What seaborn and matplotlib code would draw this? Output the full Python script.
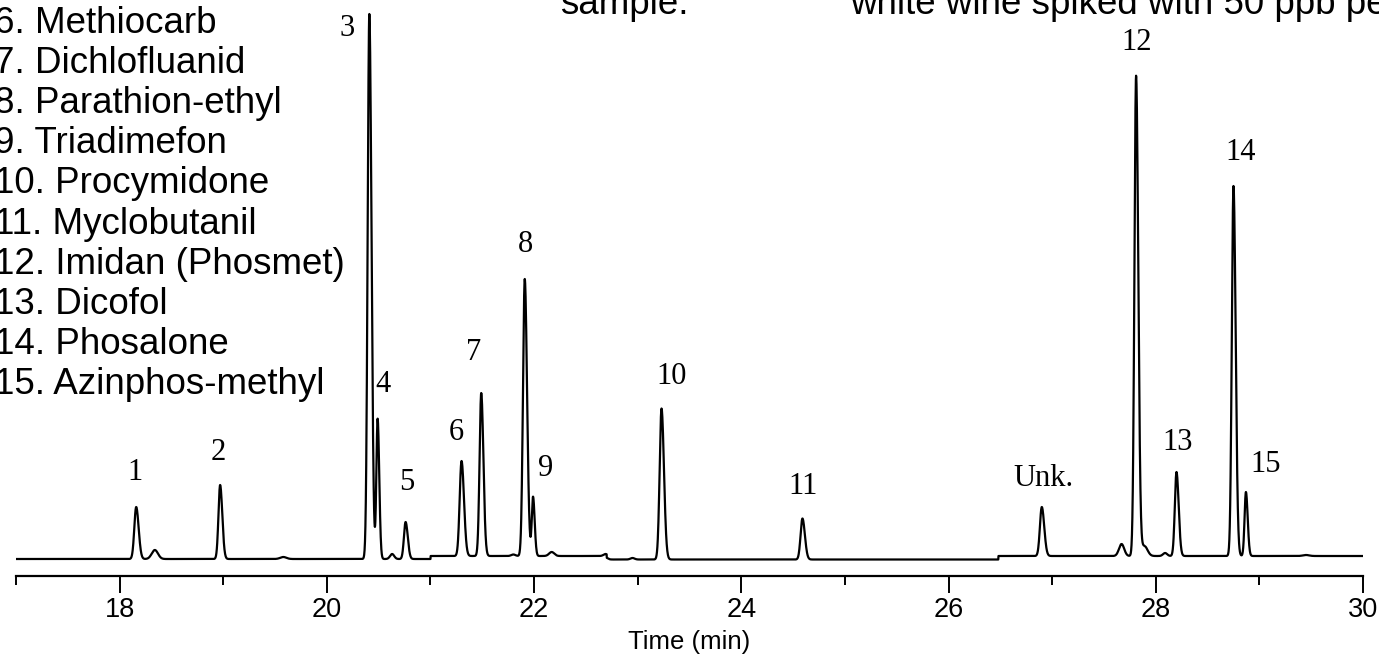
import numpy as np
import pandas as pd
import matplotlib
matplotlib.use("Agg")
import matplotlib.pyplot as plt
from matplotlib.ticker import FixedLocator
import seaborn as sns

# ---- Peak table: retention time (min), height (detector units), width (min) ----
peak_labels = ["1", "2", "3", "4", "5", "6", "7", "8", "9", "10", "11",
               "Unk.", "12", "13", "14", "15"]
peak_rt = [18.16, 18.97, 20.41, 20.49, 20.76, 21.30, 21.49, 21.91, 21.99,
           23.23, 24.59, 26.90, 27.81, 28.20, 28.75, 28.87]
peak_height = [52, 74, 545, 140, 37, 95, 163, 277, 59,
               151, 41, 49, 480, 84, 370, 64]
peak_sigma = [0.018, 0.016, 0.016, 0.012, 0.016, 0.018, 0.016, 0.017, 0.012,
              0.018, 0.018, 0.018, 0.016, 0.016, 0.016, 0.013]

# Small unlabelled humps and shoulders on the trace
minor_rt = [18.34, 19.58, 20.63, 21.80, 22.17, 22.69, 22.95, 27.67, 27.89, 28.09, 29.45]
minor_height = [9, 2, 5, 1.5, 4, 2, 1.5, 12, 10, 3, 1]
minor_sigma = [0.03, 0.03, 0.02, 0.02, 0.025, 0.02, 0.02, 0.025, 0.03, 0.02, 0.03]

# Baseline level for each stretch of the run
base_start = [17.00, 21.00, 22.70, 26.48]
base_level = [0.0, 3.0, -0.5, 3.0]

# Position of each peak label (time, signal)
label_t = [18.148, 18.95, 20.20, 20.54, 20.77, 21.247, 21.42, 21.913, 22.116,
           23.33, 24.597, 26.913, 27.82, 28.215, 28.815, 29.056]
label_y = [87, 107, 530, 174, 76, 127, 206, 314, 91,
           182, 72, 81, 516, 117, 407, 94]

# Compound list printed beside the chromatogram
compounds = ["6. Methiocarb", "7. Dichlofluanid", "8. Parathion-ethyl",
             "9. Triadimefon", "10. Procymidone", "11. Myclobutanil",
             "12. Imidan (Phosmet)", "13. Dicofol", "14. Phosalone",
             "15. Azinphos-methyl"]

major_ticks = [18, 20, 22, 24, 26, 28, 30]
minor_ticks = [17, 19, 21, 23, 25, 27, 29]


def build_trace():
    t = np.arange(17.0, 30.0 + 1e-9, 0.002)
    idx = np.searchsorted(base_start, t, side="right") - 1
    y = np.asarray(base_level)[idx].astype(float)
    for rt, h, s in zip(peak_rt, peak_height, peak_sigma):
        sig = np.where(t < rt, s, s * 1.3)
        y += h * np.exp(-0.5 * ((t - rt) / sig) ** 2)
    for rt, h, s in zip(minor_rt, minor_height, minor_sigma):
        y += h * np.exp(-0.5 * ((t - rt) / s) ** 2)
    return pd.DataFrame({"Time (min)": t, "Signal": y})


sns.set_style("ticks")
plt.rcParams["font.family"] = ["Liberation Sans", "DejaVu Sans"]

W, H = 1379, 656
fig = plt.figure(figsize=(W / 100, H / 100), dpi=100)
ax = fig.add_axes([16 / W, (H - 576) / H, 1347 / W, 576 / H])

df = build_trace()
sns.lineplot(data=df, x="Time (min)", y="Signal", ax=ax, color="black",
             linewidth=1.6, estimator=None, sort=False)

ax.set_xlim(17, 30)
ax.set_ylim(-17, 559)
sns.despine(ax=ax, left=True, top=True, right=True)
ax.set_yticks([])
ax.set_ylabel("")

ax.spines["bottom"].set_linewidth(1.6)
ax.spines["bottom"].set_color("black")
ax.xaxis.set_major_locator(FixedLocator(major_ticks))
ax.xaxis.set_minor_locator(FixedLocator(minor_ticks))
ax.set_xticklabels([str(v) for v in major_ticks])
ax.tick_params(axis="x", which="major", length=12, width=1.4, pad=3,
               labelsize=19.5, colors="black")
ax.tick_params(axis="x", which="minor", length=6.5, width=1.4, colors="black")
ax.set_xlabel("Time (min)", fontsize=18.5, labelpad=5, color="black")

# Peak numbers
for lab, tx, ty in zip(peak_labels, label_t, label_y):
    ax.text(tx, ty, lab, ha="center", va="center", fontsize=22,
            family=["Liberation Serif", "DejaVu Serif"], color="black",
            clip_on=False)

# Compound list
for i, name in enumerate(compounds):
    yb = 33 + 40.1 * i
    fig.text(-6 / W, 1 - yb / H, name, ha="left", va="baseline",
             fontsize=26.5, color="black")

# Sample description along the top edge
fig.text(560 / W, 1 - 14 / H, "sample:", ha="left", va="baseline",
         fontsize=26.5, color="black")
fig.text(850 / W, 1 - 14 / H, "white wine spiked with 50 ppb pesticides",
         ha="left", va="baseline", fontsize=26.5, color="black")

fig.savefig("out.png", dpi=100)
